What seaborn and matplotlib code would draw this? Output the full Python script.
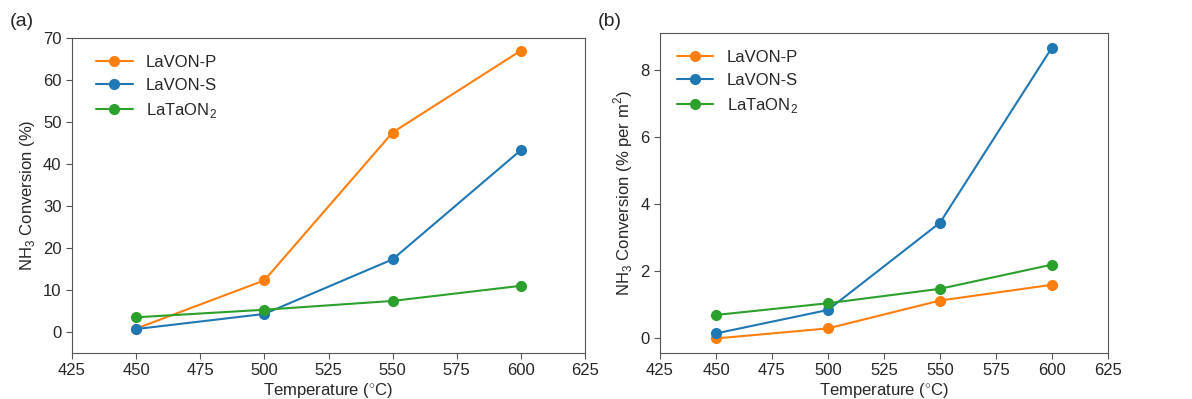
import matplotlib
matplotlib.use("Agg")
import matplotlib.pyplot as plt
import pandas as pd
import seaborn as sns

# datos
temperatura = [450, 500, 550, 600]
muestras = ["LaVON-P", "LaVON-S", "LaTaON$_2$"]

conv_pct_p = [0.8, 12.3, 47.5, 67.0]
conv_pct_s = [0.7, 4.3, 17.3, 43.3]
conv_pct_ta = [3.5, 5.3, 7.4, 11.0]

conv_m2_p = [0.0, 0.3, 1.13, 1.6]
conv_m2_s = [0.15, 0.85, 3.45, 8.67]
conv_m2_ta = [0.7, 1.05, 1.48, 2.2]

colores = {"LaVON-P": "#ff7f0e", "LaVON-S": "#1f77b4", "LaTaON$_2$": "#2ca02c"}


def tabla(series):
    filas = []
    for nombre, vals in zip(muestras, series):
        for t, v in zip(temperatura, vals):
            filas.append({"T": t, "conv": v, "muestra": nombre})
    return pd.DataFrame(filas)


sns.set_style("ticks")
plt.rcParams["font.family"] = ["Liberation Sans", "DejaVu Sans"]
plt.rcParams["mathtext.fontset"] = "custom"
plt.rcParams["mathtext.rm"] = "Liberation Sans"

fig = plt.figure(figsize=(11.92, 3.99), dpi=100)
ax1 = fig.add_axes([72 / 1192, 46 / 399, 513 / 1192, 315 / 399])
ax2 = fig.add_axes([660 / 1192, 46 / 399, 448 / 1192, 320 / 399])

df1 = tabla([conv_pct_p, conv_pct_s, conv_pct_ta])
df2 = tabla([conv_m2_p, conv_m2_s, conv_m2_ta])

for ax, df, ancla in [(ax1, df1, (0.014, 1.0)), (ax2, df2, (0.0, 1.0))]:
    sns.lineplot(data=df, x="T", y="conv", hue="muestra", palette=colores,
                 marker="o", markersize=8, markeredgewidth=0, linewidth=1.5, ax=ax)
    ax.set_xlim(425, 625)
    ax.set_xticks([425, 450, 475, 500, 525, 550, 575, 600, 625])
    ax.set_xlabel("Temperature ($^{\\circ}$C)", fontsize=12, labelpad=2)
    ax.tick_params(labelsize=12, color="#555555", length=4)
    for s in ax.spines.values():
        s.set_color("#555555")
    ax.legend(loc="upper left", bbox_to_anchor=ancla, frameon=False, fontsize=12,
              handlelength=2.2, borderaxespad=0.6)

ax1.set_ylim(-5, 70)
ax1.set_yticks(range(0, 71, 10))
ax1.set_ylabel("NH$_3$ Conversion (%)", fontsize=12)
ax2.set_yticks([0, 2, 4, 6, 8])
ax2.set_ylabel("NH$_3$ Conversion (% per m$^2$)", fontsize=12)

fig.text(10 / 1192, 1 - 22 / 399, "(a)", fontsize=14, va="center")
fig.text(598 / 1192, 1 - 22 / 399, "(b)", fontsize=14, va="center")

fig.savefig("out.png", dpi=100)
